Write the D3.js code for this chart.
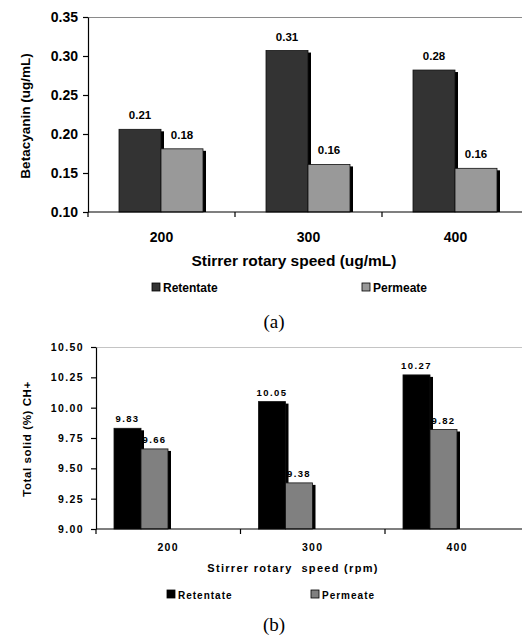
<!DOCTYPE html>
<html>
<head>
<meta charset="utf-8">
<script src="https://cdn.jsdelivr.net/npm/d3@7"></script>
<style>
  html, body { margin: 0; padding: 0; background: #fff; }
  svg { display: block; }
  text { font-family: "Liberation Sans", Arial, sans-serif; }
</style>
</head>
<body>
<svg id="fig" width="526" height="637"></svg>
<script>
(function () {
    'use strict';

    // ---- data ----
    var categories = ['200', '300', '400'];
    var seriesNames = ['Retentate', 'Permeate'];

    // (a) betacyanin, ug/mL
    var retentateA = [0.206, 0.307, 0.282];
    var permeateA = [0.181, 0.161, 0.156];
    var yTicksA = [0.10, 0.15, 0.20, 0.25, 0.30, 0.35];

    // (b) total solid, %
    var retentateB = [9.83, 10.05, 10.27];
    var permeateB = [9.66, 9.38, 9.82];
    var yTicksB = [9.00, 9.25, 9.50, 9.75, 10.00, 10.25, 10.50];

    var svg = d3.select('#fig');
    svg.append('rect').attr('width', 526).attr('height', 637).attr('fill', '#fff');

    function drawChart(cfg) {
        var g = svg.append('g');
        var y = d3.scaleLinear().domain(cfg.yDomain).range([cfg.bottom, cfg.top]);
        var x = d3.scaleBand().domain(categories).range([cfg.left, cfg.right]).padding(0);
        var xs = d3.scaleBand().domain(seriesNames).range(cfg.groupRange).padding(0);
        var values = [cfg.retentate, cfg.permeate];

        // top frame line
        g.append('line')
            .attr('x1', cfg.left).attr('x2', cfg.frameRight)
            .attr('y1', cfg.top + 0.5).attr('y2', cfg.top + 0.5)
            .attr('stroke', cfg.frameColor).attr('stroke-width', 1.2);

        // bars with drop shadow
        categories.forEach(function (c, i) {
            seriesNames.forEach(function (s, k) {
                var v = values[k][i];
                var bx = x(c) + xs(s);
                var by = y(v);
                g.append('rect')
                    .attr('x', bx + cfg.shadow[0]).attr('y', by + cfg.shadow[1])
                    .attr('width', xs.bandwidth()).attr('height', cfg.bottom - by - cfg.shadow[1])
                    .attr('fill', '#000');
                g.append('rect')
                    .attr('x', bx).attr('y', by)
                    .attr('width', xs.bandwidth()).attr('height', cfg.bottom - by)
                    .attr('fill', cfg.colors[k])
                    .attr('stroke', '#111').attr('stroke-width', 0.8);
                g.append('text')
                    .attr('x', bx + xs.bandwidth() / 2).attr('y', by - cfg.labelGap)
                    .attr('text-anchor', 'middle')
                    .style('font-size', cfg.valueFont + 'px').style('font-weight', 'bold')
                    .style('letter-spacing', cfg.spacing + 'px')
                    .text(d3.format('.2f')(v));
            });
        });

        // y axis
        var yAxis = d3.axisLeft(y).tickValues(cfg.yTicks).tickSize(5).tickSizeOuter(0)
            .tickPadding(cfg.tickPad).tickFormat(d3.format('.2f'));
        var ya = g.append('g').attr('transform', 'translate(' + cfg.left + ',0)').call(yAxis);
        ya.select('.domain').attr('stroke', '#000').attr('stroke-width', 1.2);
        ya.selectAll('line').attr('stroke', '#000').attr('stroke-width', 1.2);
        ya.selectAll('text')
            .style('font-family', '"Liberation Sans", Arial, sans-serif')
            .style('font-size', cfg.tickFont + 'px').style('font-weight', 'bold')
            .style('letter-spacing', cfg.spacing + 'px').attr('fill', '#000');

        // x axis (ticks on band boundaries)
        g.append('line')
            .attr('x1', cfg.left).attr('x2', cfg.frameRight)
            .attr('y1', cfg.bottom).attr('y2', cfg.bottom)
            .attr('stroke', '#000').attr('stroke-width', 1.2);
        var edges = categories.map(function (c) { return x(c); });
        g.selectAll(null).data(edges).enter().append('line')
            .attr('x1', function (d) { return d; }).attr('x2', function (d) { return d; })
            .attr('y1', cfg.bottom).attr('y2', cfg.bottom + 5)
            .attr('stroke', '#000').attr('stroke-width', 1.2);
        g.selectAll(null).data(categories).enter().append('text')
            .attr('x', function (d) { return x(d) + x.bandwidth() / 2; })
            .attr('y', cfg.xLabelY)
            .attr('text-anchor', 'middle')
            .style('font-size', cfg.xTickFont + 'px').style('font-weight', 'bold')
            .style('letter-spacing', cfg.spacing + 'px')
            .text(function (d) { return d; });

        // axis titles
        g.append('text')
            .attr('x', cfg.xTitle[0]).attr('y', cfg.xTitle[1])
            .attr('text-anchor', 'middle')
            .style('font-size', cfg.xTitleFont + 'px').style('font-weight', 'bold')
            .style('letter-spacing', cfg.titleSpacing + 'px')
            .style('white-space', 'pre')
            .text(cfg.xTitleText);
        g.append('text')
            .attr('transform', 'translate(' + cfg.yTitle[0] + ',' + cfg.yTitle[1] + ') rotate(-90)')
            .attr('text-anchor', 'middle')
            .style('font-size', cfg.yTitleFont + 'px').style('font-weight', 'bold')
            .style('letter-spacing', cfg.yTitleSpacing + 'px')
            .text(cfg.yTitleText);

        // legend
        seriesNames.forEach(function (s, k) {
            var lx = cfg.legendX[k];
            g.append('rect')
                .attr('x', lx).attr('y', cfg.legendY - 8)
                .attr('width', 8).attr('height', 8)
                .attr('fill', cfg.colors[k]).attr('stroke', '#000').attr('stroke-width', 0.8);
            g.append('text')
                .attr('x', lx + 11).attr('y', cfg.legendY + 0.5)
                .style('font-size', cfg.legendFont + 'px').style('font-weight', 'bold')
                .style('letter-spacing', cfg.legendSpacing + 'px')
                .text(s);
        });

        // panel caption
        g.append('text')
            .attr('x', cfg.caption[0]).attr('y', cfg.caption[1])
            .attr('text-anchor', 'middle')
            .style('font-family', '"Liberation Serif", "Times New Roman", serif')
            .style('font-size', '19px')
            .text(cfg.captionText);
    }

    drawChart({
        retentate: retentateA, permeate: permeateA,
        yDomain: [0.10, 0.35], yTicks: yTicksA,
        left: 88, right: 529, frameRight: 522, top: 17, bottom: 212,
        groupRange: [31, 115], shadow: [3, 2],
        colors: ['#333333', '#999999'], frameColor: '#8a8a8a',
        labelGap: 10, valueFont: 11.5, tickFont: 14, tickPad: 5, xTickFont: 14,
        spacing: 0, xLabelY: 242,
        xTitle: [294, 266], xTitleFont: 15.5, titleSpacing: 0,
        xTitleText: 'Stirrer rotary speed (ug/mL)',
        yTitle: [30, 116], yTitleFont: 13.5, yTitleSpacing: 0,
        yTitleText: 'Betacyanin (ug/mL)',
        legendX: [152, 362], legendY: 291, legendFont: 12, legendSpacing: 0,
        caption: [274, 328], captionText: '(a)'
    });

    drawChart({
        retentate: retentateB, permeate: permeateB,
        yDomain: [9.00, 10.50], yTicks: yTicksB,
        left: 96, right: 529.5, frameRight: 522, top: 347, bottom: 529,
        groupRange: [18, 72], shadow: [3, 2],
        colors: ['#000000', '#808080'], frameColor: '#c4c4c4',
        labelGap: 6, valueFont: 9.5, tickFont: 10.5, tickPad: 7, xTickFont: 10.5,
        spacing: 1.4, xLabelY: 551,
        xTitle: [293, 572], xTitleFont: 11, titleSpacing: 1.3,
        xTitleText: 'Stirrer rotary  speed (rpm)',
        yTitle: [31, 439], yTitleFont: 11.5, yTitleSpacing: 0.6,
        yTitleText: 'Total solid (%) CH+',
        legendX: [167, 311], legendY: 598, legendFont: 10, legendSpacing: 1,
        caption: [274, 631], captionText: '(b)'
    });
}());
</script>
</body>
</html>
